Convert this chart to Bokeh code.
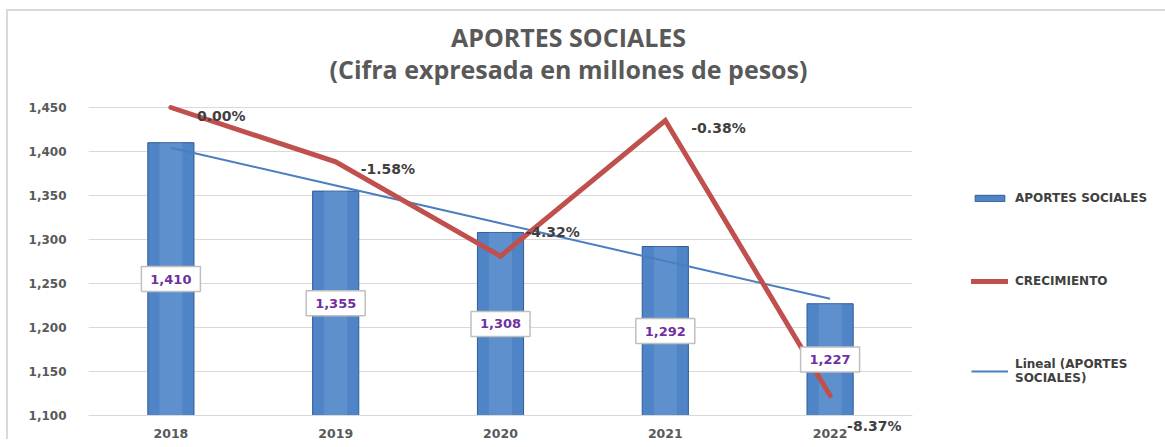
import numpy as np
from bokeh.plotting import figure
from bokeh.models import (ColumnDataSource, Range1d, LabelSet, Legend, LegendItem,
                          NumeralTickFormatter, FixedTicker)
from bokeh.core.properties import value
from bokeh.embed import file_html
from bokeh.resources import INLINE

# ---------------- data ----------------
years = ["2018", "2019", "2020", "2021", "2022"]
aportes = [1410, 1355, 1308, 1292, 1227]
crecimiento = [0.00, -1.58, -4.32, -0.38, -8.37]
y_ticks = [1100, 1150, 1200, 1250, 1300, 1350, 1400, 1450]
y_start, y_end = 1100, 1450          # value axis shown
pct_start, pct_end = -8.95, 0.0      # hidden secondary axis for CRECIMIENTO

title_1 = "APORTES SOCIALES"
title_2 = "(Cifra expresada en millones de pesos)"
legend_labels = ["APORTES SOCIALES", "CRECIMIENTO", "Lineal (APORTES\nSOCIALES)"]

# ---------------- layout / styles ----------------
main_px = 308          # pixel height of the value axis
top_px, bottom_px = 87, 24   # extra frame space above / below the value axis
pct_dx = [26, 25, 25, 26, 17]
pct_dy = [-8, -7, 24, -7, -30]
FONT = "DejaVu Sans"
GRAY = "#595959"

k = (y_end - y_start) / main_px
kp = (pct_end - pct_start) / main_px
y_lo, y_hi = y_start - bottom_px * k, y_end + top_px * k
p_lo, p_hi = pct_start - bottom_px * kp, pct_end + top_px * kp

aportes_txt = [f"{v:,}" for v in aportes]
crec_txt = [f"{v:.2f}%" for v in crecimiento]
idx = np.arange(len(aportes))
slope, intercept = np.polyfit(idx, aportes, 1)
trend = list(intercept + slope * idx)

src = ColumnDataSource(dict(
    x=years, top=aportes, mid=[(y_start + v) / 2 for v in aportes],
    lbl=aportes_txt, pct=crecimiento, pct_lbl=crec_txt,
    dx=pct_dx, dy=pct_dy, trend=trend,
))
title_src = ColumnDataSource(dict(
    x=[years[2], years[2]], y=[y_end, y_end], t=[title_1, title_2], dy=[71, 39],
))

p = figure(x_range=years, y_range=Range1d(y_lo, y_hi),
           frame_width=824, frame_height=main_px + top_px + bottom_px,
           output_backend="svg", toolbar_location=None,
           min_border_left=80, min_border_right=245, min_border_top=9, min_border_bottom=0,
           styles={"margin-left": "6px", "margin-top": "9px",
                   "border-left": "2px solid #D9D9D9", "border-top": "2px solid #D9D9D9"})
p.extra_y_ranges = {"pct": Range1d(p_lo, p_hi)}
p.outline_line_color = None
p.background_fill_color = "white"
p.border_fill_color = "white"

# axes
p.yaxis.ticker = FixedTicker(ticks=y_ticks)
p.yaxis.formatter = NumeralTickFormatter(format="0,0")
p.yaxis.axis_line_color = None
p.yaxis.major_tick_line_color = None
p.yaxis.minor_tick_line_color = None
p.yaxis.major_label_text_font = FONT
p.yaxis.major_label_text_font_style = "bold"
p.yaxis.major_label_text_font_size = "12px"
p.yaxis.major_label_text_color = GRAY
p.yaxis.major_label_standoff = 16

p.xaxis.fixed_location = y_start
p.xaxis.axis_line_color = "#D9D9D9"
p.xaxis.axis_line_width = 1
p.xaxis.major_tick_line_color = None
p.xaxis.minor_tick_line_color = None
p.xaxis.major_label_text_font = FONT
p.xaxis.major_label_text_font_style = "bold"
p.xaxis.major_label_text_font_size = "12.5px"
p.xaxis.major_label_text_color = GRAY
p.xaxis.major_label_standoff = 7

p.xgrid.grid_line_color = None
p.ygrid.grid_line_color = "#D9D9D9"
p.ygrid.ticker = FixedTicker(ticks=y_ticks)

# glyphs
bars = p.vbar(x="x", top="top", bottom=y_start, width=0.28, source=src,
              fill_color="#4F84C6", line_color="#2F5B95", line_width=1)
p.vbar(x="x", top="top", bottom=y_start, width=0.14, source=src,
       fill_color="#7AA6DD", fill_alpha=0.35, line_color=None)
trend_r = p.line(x="x", y="trend", source=src, line_color="#4A7EC1", line_width=2)
red = p.line(x="x", y="pct", source=src, y_range_name="pct",
             line_color="#C0504D", line_width=5, line_cap="round", line_join="miter")

# value labels in boxes
p.rect(x="x", y="mid", width=59, height=25, width_units="screen", height_units="screen",
       source=src, fill_color="white", line_color="#BFBFBF", line_width=1.5)
p.add_layout(LabelSet(x="x", y="mid", text="lbl", source=src,
                      text_align="center", text_baseline="middle",
                      text_font=value(FONT), text_font_style="bold", text_font_size="13px",
                      text_color="#7030A0"))
p.add_layout(LabelSet(x="x", y="pct", text="pct_lbl", source=src, y_range_name="pct",
                      x_offset="dx", y_offset="dy",
                      text_align="left", text_baseline="middle",
                      text_font=value(FONT), text_font_style="bold", text_font_size="14px",
                      text_color="#404040"))

# legend
legend = Legend(items=[LegendItem(label=legend_labels[0], renderers=[bars]),
                       LegendItem(label=legend_labels[1], renderers=[red]),
                       LegendItem(label=legend_labels[2], renderers=[trend_r])],
                location=(59, 30 + bottom_px), orientation="vertical",
                border_line_color=None, background_fill_alpha=0,
                label_text_font=FONT, label_text_font_style="bold",
                label_text_font_size="12px", label_text_color="#404040",
                glyph_width=37, glyph_height=8, label_standoff=7,
                spacing=69, margin=0, padding=10)
p.add_layout(legend, "right")

# two-line chart title
p.add_layout(LabelSet(x="x", y="y", text="t", source=title_src, x_offset=68, y_offset="dy",
                      text_align="center", text_baseline="middle",
                      text_font=value("Open Sans"), text_font_style="bold",
                      text_font_size="25px", text_color=GRAY))

open("out.html", "w").write(file_html(p, INLINE))
